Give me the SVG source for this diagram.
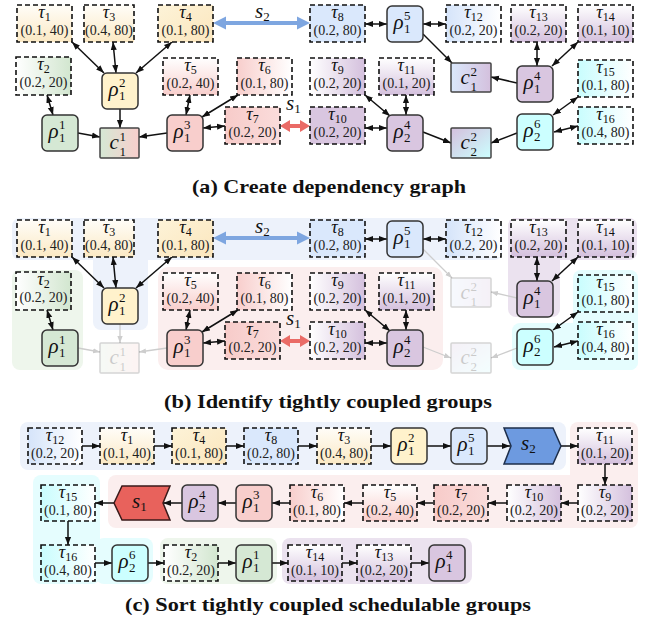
<svg xmlns="http://www.w3.org/2000/svg" width="657" height="630" viewBox="0 0 657 630">
<style>
.tb{stroke:#111;stroke-width:1.6;stroke-dasharray:5 3}
.rb{stroke:#333;stroke-width:1.5}
.cb{stroke:#444;stroke-width:1.5}
.tl{font-family:"Liberation Serif",serif;font-style:italic;font-size:18px;text-anchor:middle;fill:#111}
.sb{font-size:12px;font-style:normal}
.nm{font-family:"Liberation Serif",serif;font-size:14px;text-anchor:middle;fill:#222}
.gl{font-family:"Liberation Serif",serif;font-style:italic;font-size:21px;fill:#111}
.sc{font-size:13px;font-style:normal}
.lk{stroke:#111;stroke-width:1.5;fill:none;marker-start:url(#ah);marker-end:url(#ah)}
.to{stroke:#111;stroke-width:1.5;fill:none;marker-end:url(#ah)}
.fd{stroke:#cdcdcd;stroke-width:1.3;fill:none;marker-end:url(#ahf)}
.cap{font-family:"Liberation Serif",serif;font-weight:bold;font-size:19px;text-anchor:middle;fill:#111}
.sl{font-family:"Liberation Serif",serif;font-style:italic;font-size:21px;fill:#111}
.sls{font-size:13px;font-style:normal}
.faded{opacity:0.22}
</style>
<defs>
<marker id="ah" viewBox="0 0 10 10" refX="10" refY="5" markerWidth="8" markerHeight="8" markerUnits="userSpaceOnUse" orient="auto-start-reverse"><path d="M0,1.2 L10,5 L0,8.8 z" fill="#111"/></marker>
<marker id="ahf" viewBox="0 0 10 10" refX="10" refY="5" markerWidth="7" markerHeight="7" markerUnits="userSpaceOnUse" orient="auto-start-reverse"><path d="M0,1.2 L10,5 L0,8.8 z" fill="#cdcdcd"/></marker>
<linearGradient id="gYv" x1="0" y1="0" x2="0" y2="1"><stop offset="0" stop-color="#fffdf8"/><stop offset="1" stop-color="#fbe9c4"/></linearGradient>
<linearGradient id="gY4" x1="0" y1="0" x2="1" y2="1"><stop offset="0" stop-color="#fdf3d8"/><stop offset="1" stop-color="#fbe6bd"/></linearGradient>
<linearGradient id="gGh" x1="0" y1="0" x2="1" y2="0"><stop offset="0" stop-color="#ffffff"/><stop offset="1" stop-color="#d2e6cf"/></linearGradient>
<linearGradient id="gPv" x1="0" y1="0" x2="0" y2="1"><stop offset="0" stop-color="#ffffff"/><stop offset="1" stop-color="#f8cecc"/></linearGradient>
<linearGradient id="gPr" x1="0" y1="0" x2="1" y2="0"><stop offset="0" stop-color="#f8cecc"/><stop offset="1" stop-color="#ffffff"/></linearGradient>
<linearGradient id="gP7" x1="0" y1="0" x2="1" y2="0"><stop offset="0" stop-color="#f7cbc9"/><stop offset="1" stop-color="#fadcdb"/></linearGradient>
<linearGradient id="gBr" x1="0" y1="0" x2="1" y2="0"><stop offset="0" stop-color="#d5e4fa"/><stop offset="1" stop-color="#ffffff"/></linearGradient>
<linearGradient id="gVh" x1="0" y1="0" x2="1" y2="0"><stop offset="0" stop-color="#ffffff"/><stop offset="1" stop-color="#d4c0dd"/></linearGradient>
<linearGradient id="gVv" x1="0" y1="0" x2="0" y2="1"><stop offset="0" stop-color="#ffffff"/><stop offset="1" stop-color="#d4c0dd"/></linearGradient>
<linearGradient id="gCr" x1="0" y1="0" x2="1" y2="0"><stop offset="0" stop-color="#c9fdfe"/><stop offset="1" stop-color="#ffffff"/></linearGradient>
<linearGradient id="gGP" x1="0" y1="0" x2="1" y2="0"><stop offset="0" stop-color="#d5e8d4"/><stop offset="1" stop-color="#f8cecc"/></linearGradient>
<linearGradient id="gBV" x1="0" y1="0" x2="1" y2="0"><stop offset="0" stop-color="#dae8fc"/><stop offset="1" stop-color="#d4c0dd"/></linearGradient>
<linearGradient id="gVC" x1="0" y1="0" x2="1" y2="1"><stop offset="0" stop-color="#d4c0dd"/><stop offset="1" stop-color="#ccffff"/></linearGradient>
</defs>

<!-- ============ (a) dependency graph ============ -->
<g id="panel-a">
<g id="a-links">
<line class="lk" x1="72" y1="42" x2="104" y2="73"/>
<line class="lk" x1="113" y1="42" x2="116" y2="73"/>
<line class="lk" x1="172" y1="42" x2="136" y2="73"/>
<line class="lk" x1="47" y1="95" x2="53" y2="115"/>
<line class="lk" x1="190" y1="95" x2="186" y2="115"/>
<line class="lk" x1="202" y1="117" x2="238" y2="95"/>
<line class="lk" x1="203" y1="128" x2="225" y2="126"/>
<line class="lk" x1="365" y1="24" x2="387" y2="24"/>
<line class="lk" x1="423" y1="24" x2="446" y2="24"/>
<line class="lk" x1="365" y1="95" x2="390" y2="116"/>
<line class="lk" x1="406" y1="95" x2="406" y2="115"/>
<line class="lk" x1="365" y1="128" x2="387" y2="128"/>
<line class="lk" x1="537" y1="42" x2="537" y2="66"/>
<line class="lk" x1="578" y1="42" x2="552" y2="66"/>
<line class="lk" x1="578" y1="97" x2="553" y2="115"/>
<line class="lk" x1="578" y1="126" x2="554" y2="132"/>
<line class="to" x1="120" y1="109" x2="120" y2="128"/>
<line class="to" x1="78" y1="133" x2="100" y2="137"/>
<line class="to" x1="167" y1="133" x2="139" y2="137"/>
<line class="to" x1="423" y1="34" x2="452" y2="63"/>
<line class="to" x1="517" y1="83" x2="491" y2="77"/>
<line class="to" x1="423" y1="132" x2="451" y2="143"/>
<line class="to" x1="517" y1="133" x2="491" y2="143"/>
<polygon points="213,23 226,16.5 226,21 297,21 297,16.5 310,23 297,29.5 297,25 226,25 226,29.5" fill="#7ea6e0"/>
<polygon points="280,126 290,120 290,124 300,124 300,120 310,126 300,132 300,128 290,128 290,132" fill="#ea6b66"/>
<text class="sl" x="255" y="18">s<tspan class="sls" dy="3">2</tspan></text>
<text class="sl" x="286" y="110">s<tspan class="sls" dy="3">1</tspan></text>
</g>
<g id="a-t1"><rect class="tb" x="17" y="5" width="55" height="37" fill="url(#gYv)"/><text class="tl" x="44.5" y="18">τ<tspan class="sb" dy="3">1</tspan></text><text class="nm" x="44.5" y="35">(0.1, 40)</text></g>
<g id="a-t3"><rect class="tb" x="84" y="5" width="50" height="37" fill="url(#gYv)"/><text class="tl" x="109" y="18">τ<tspan class="sb" dy="3">3</tspan></text><text class="nm" x="109" y="35">(0.4, 80)</text></g>
<g id="a-t4"><rect class="tb" x="158" y="5" width="55" height="37" fill="url(#gY4)"/><text class="tl" x="185.5" y="18">τ<tspan class="sb" dy="3">4</tspan></text><text class="nm" x="185.5" y="35">(0.1, 80)</text></g>
<g id="a-t8"><rect class="tb" x="310" y="5" width="55" height="37" fill="#dae8fc"/><text class="tl" x="337.5" y="18">τ<tspan class="sb" dy="3">8</tspan></text><text class="nm" x="337.5" y="35">(0.2, 80)</text></g>
<g id="a-t12"><rect class="tb" x="446" y="5" width="55" height="37" fill="url(#gBr)"/><text class="tl" x="473.5" y="18">τ<tspan class="sb" dy="3">12</tspan></text><text class="nm" x="473.5" y="35">(0.2, 20)</text></g>
<g id="a-t13"><rect class="tb" x="511" y="5" width="55" height="37" fill="url(#gVv)"/><text class="tl" x="538.5" y="18">τ<tspan class="sb" dy="3">13</tspan></text><text class="nm" x="538.5" y="35">(0.2, 20)</text></g>
<g id="a-t14"><rect class="tb" x="578" y="5" width="55" height="37" fill="url(#gVv)"/><text class="tl" x="605.5" y="18">τ<tspan class="sb" dy="3">14</tspan></text><text class="nm" x="605.5" y="35">(0.1, 10)</text></g>
<g id="a-t2"><rect class="tb" x="16" y="57" width="55" height="38" fill="url(#gGh)"/><text class="tl" x="43.5" y="70">τ<tspan class="sb" dy="3">2</tspan></text><text class="nm" x="43.5" y="87">(0.2, 20)</text></g>
<g id="a-t5"><rect class="tb" x="163" y="58" width="55" height="37" fill="url(#gPv)"/><text class="tl" x="190.5" y="71">τ<tspan class="sb" dy="3">5</tspan></text><text class="nm" x="190.5" y="88">(0.2, 40)</text></g>
<g id="a-t6"><rect class="tb" x="237" y="58" width="55" height="37" fill="url(#gPr)"/><text class="tl" x="264.5" y="71">τ<tspan class="sb" dy="3">6</tspan></text><text class="nm" x="264.5" y="88">(0.1, 80)</text></g>
<g id="a-t9"><rect class="tb" x="310" y="58" width="55" height="37" fill="url(#gVh)"/><text class="tl" x="337.5" y="71">τ<tspan class="sb" dy="3">9</tspan></text><text class="nm" x="337.5" y="88">(0.2, 20)</text></g>
<g id="a-t11"><rect class="tb" x="379" y="58" width="55" height="37" fill="url(#gVv)"/><text class="tl" x="406.5" y="71">τ<tspan class="sb" dy="3">11</tspan></text><text class="nm" x="406.5" y="88">(0.1, 20)</text></g>
<g id="a-t15"><rect class="tb" x="578" y="60" width="55" height="37" fill="url(#gCr)"/><text class="tl" x="605.5" y="73">τ<tspan class="sb" dy="3">15</tspan></text><text class="nm" x="605.5" y="90">(0.1, 80)</text></g>
<g id="a-t7"><rect class="tb" x="225" y="107" width="55" height="37" fill="url(#gP7)"/><text class="tl" x="252.5" y="120">τ<tspan class="sb" dy="3">7</tspan></text><text class="nm" x="252.5" y="137">(0.2, 20)</text></g>
<g id="a-t10"><rect class="tb" x="310" y="107" width="55" height="37" fill="#d9c6e0"/><text class="tl" x="337.5" y="120">τ<tspan class="sb" dy="3">10</tspan></text><text class="nm" x="337.5" y="137">(0.2, 20)</text></g>
<g id="a-t16"><rect class="tb" x="578" y="107" width="55" height="37" fill="url(#gCr)"/><text class="tl" x="605.5" y="120">τ<tspan class="sb" dy="3">16</tspan></text><text class="nm" x="605.5" y="137">(0.4, 80)</text></g>
<g id="a-r15"><rect class="rb" x="387" y="6" width="36" height="36" rx="5" fill="#dae8fc"/><text class="gl" x="393.5" y="29">ρ<tspan class="sc" x="404" y="20">5</tspan><tspan class="sc" x="404" y="33">1</tspan></text></g>
<g id="a-r12"><rect class="rb" x="102" y="73" width="36" height="36" rx="5" fill="#fff2cc"/><text class="gl" x="108.5" y="96">ρ<tspan class="sc" x="119" y="87">2</tspan><tspan class="sc" x="119" y="100">1</tspan></text></g>
<g id="a-r14"><rect class="rb" x="517" y="66" width="36" height="36" rx="5" fill="#d9c6e0"/><text class="gl" x="523.5" y="89">ρ<tspan class="sc" x="534" y="80">4</tspan><tspan class="sc" x="534" y="93">1</tspan></text></g>
<g id="a-r11"><rect class="rb" x="42" y="115" width="36" height="36" rx="5" fill="#d5e8d4"/><text class="gl" x="48.5" y="138">ρ<tspan class="sc" x="59" y="129">1</tspan><tspan class="sc" x="59" y="142">1</tspan></text></g>
<g id="a-r13"><rect class="rb" x="167" y="115" width="36" height="36" rx="5" fill="#f8cecc"/><text class="gl" x="173.5" y="138">ρ<tspan class="sc" x="184" y="129">3</tspan><tspan class="sc" x="184" y="142">1</tspan></text></g>
<g id="a-r24"><rect class="rb" x="387" y="115" width="36" height="36" rx="5" fill="#d9c6e0"/><text class="gl" x="393.5" y="138">ρ<tspan class="sc" x="404" y="129">4</tspan><tspan class="sc" x="404" y="142">2</tspan></text></g>
<g id="a-r26"><rect class="rb" x="517" y="114" width="36" height="36" rx="5" fill="#ccffff"/><text class="gl" x="523.5" y="137">ρ<tspan class="sc" x="534" y="128">6</tspan><tspan class="sc" x="534" y="141">2</tspan></text></g>
<g id="a-c11"><rect class="cb" x="100" y="128" width="39" height="30" rx="1" fill="url(#gGP)"/><text class="gl" x="109.5" y="149">c<tspan class="sc" x="119.5" y="141">1</tspan><tspan class="sc" x="119.5" y="156">1</tspan></text></g>
<g id="a-c12"><rect class="cb" x="451" y="63" width="40" height="29" rx="1" fill="url(#gBV)"/><text class="gl" x="460.5" y="84">c<tspan class="sc" x="470.5" y="76">2</tspan><tspan class="sc" x="470.5" y="91">1</tspan></text></g>
<g id="a-c22"><rect class="cb" x="451" y="128" width="40" height="30" rx="1" fill="url(#gVC)"/><text class="gl" x="460.5" y="149">c<tspan class="sc" x="470.5" y="141">2</tspan><tspan class="sc" x="470.5" y="156">2</tspan></text></g>
<text class="cap" x="329" y="193" textLength="274" lengthAdjust="spacingAndGlyphs">(a) Create dependency graph</text>
</g>

<!-- ============ (b) tightly coupled groups ============ -->
<g id="panel-b" transform="translate(0,215)">
<g id="b-groups">
<rect x="12" y="3" width="490" height="42" rx="8" fill="#edf2fb"/>
<rect x="93" y="3" width="55" height="112" rx="8" fill="#edf2fb"/>
<rect x="12" y="55" width="71" height="100" rx="8" fill="#eef6ec"/>
<rect x="158" y="52" width="285" height="103" rx="10" fill="#fbeeee"/>
<rect x="508" y="3" width="129" height="42" rx="8" fill="#ebe2ef"/>
<rect x="508" y="3" width="52" height="99" rx="8" fill="#ebe2ef"/>
<rect x="573" y="55" width="65" height="100" rx="8" fill="#e5fdfe"/>
<rect x="512" y="108" width="126" height="47" rx="8" fill="#e5fdfe"/>
</g>
<g id="b-links">
<line class="lk" x1="72" y1="42" x2="104" y2="73"/>
<line class="lk" x1="113" y1="42" x2="116" y2="73"/>
<line class="lk" x1="172" y1="42" x2="136" y2="73"/>
<line class="lk" x1="47" y1="95" x2="53" y2="115"/>
<line class="lk" x1="190" y1="95" x2="186" y2="115"/>
<line class="lk" x1="202" y1="117" x2="238" y2="95"/>
<line class="lk" x1="203" y1="128" x2="225" y2="126"/>
<line class="lk" x1="365" y1="24" x2="387" y2="24"/>
<line class="lk" x1="423" y1="24" x2="446" y2="24"/>
<line class="lk" x1="365" y1="95" x2="390" y2="116"/>
<line class="lk" x1="406" y1="95" x2="406" y2="115"/>
<line class="lk" x1="365" y1="128" x2="387" y2="128"/>
<line class="lk" x1="537" y1="42" x2="537" y2="66"/>
<line class="lk" x1="578" y1="42" x2="552" y2="66"/>
<line class="lk" x1="578" y1="97" x2="553" y2="115"/>
<line class="lk" x1="578" y1="126" x2="554" y2="132"/>
<line class="fd" x1="120" y1="109" x2="120" y2="128"/>
<line class="fd" x1="78" y1="133" x2="100" y2="137"/>
<line class="fd" x1="167" y1="133" x2="139" y2="137"/>
<line class="fd" x1="423" y1="34" x2="452" y2="63"/>
<line class="fd" x1="517" y1="83" x2="491" y2="77"/>
<line class="fd" x1="423" y1="132" x2="451" y2="143"/>
<line class="fd" x1="517" y1="133" x2="491" y2="143"/>
<polygon points="213,23 226,16.5 226,21 297,21 297,16.5 310,23 297,29.5 297,25 226,25 226,29.5" fill="#7ea6e0"/>
<polygon points="280,126 290,120 290,124 300,124 300,120 310,126 300,132 300,128 290,128 290,132" fill="#ea6b66"/>
<text class="sl" x="255" y="18">s<tspan class="sls" dy="3">2</tspan></text>
<text class="sl" x="286" y="110">s<tspan class="sls" dy="3">1</tspan></text>
</g>
<g id="b-t1"><rect class="tb" x="17" y="5" width="55" height="37" fill="url(#gYv)"/><text class="tl" x="44.5" y="18">τ<tspan class="sb" dy="3">1</tspan></text><text class="nm" x="44.5" y="35">(0.1, 40)</text></g>
<g id="b-t3"><rect class="tb" x="84" y="5" width="50" height="37" fill="url(#gYv)"/><text class="tl" x="109" y="18">τ<tspan class="sb" dy="3">3</tspan></text><text class="nm" x="109" y="35">(0.4, 80)</text></g>
<g id="b-t4"><rect class="tb" x="158" y="5" width="55" height="37" fill="url(#gY4)"/><text class="tl" x="185.5" y="18">τ<tspan class="sb" dy="3">4</tspan></text><text class="nm" x="185.5" y="35">(0.1, 80)</text></g>
<g id="b-t8"><rect class="tb" x="310" y="5" width="55" height="37" fill="#dae8fc"/><text class="tl" x="337.5" y="18">τ<tspan class="sb" dy="3">8</tspan></text><text class="nm" x="337.5" y="35">(0.2, 80)</text></g>
<g id="b-t12"><rect class="tb" x="446" y="5" width="55" height="37" fill="url(#gBr)"/><text class="tl" x="473.5" y="18">τ<tspan class="sb" dy="3">12</tspan></text><text class="nm" x="473.5" y="35">(0.2, 20)</text></g>
<g id="b-t13"><rect class="tb" x="511" y="5" width="55" height="37" fill="url(#gVv)"/><text class="tl" x="538.5" y="18">τ<tspan class="sb" dy="3">13</tspan></text><text class="nm" x="538.5" y="35">(0.2, 20)</text></g>
<g id="b-t14"><rect class="tb" x="578" y="5" width="55" height="37" fill="url(#gVv)"/><text class="tl" x="605.5" y="18">τ<tspan class="sb" dy="3">14</tspan></text><text class="nm" x="605.5" y="35">(0.1, 10)</text></g>
<g id="b-t2"><rect class="tb" x="16" y="57" width="55" height="38" fill="url(#gGh)"/><text class="tl" x="43.5" y="70">τ<tspan class="sb" dy="3">2</tspan></text><text class="nm" x="43.5" y="87">(0.2, 20)</text></g>
<g id="b-t5"><rect class="tb" x="163" y="58" width="55" height="37" fill="url(#gPv)"/><text class="tl" x="190.5" y="71">τ<tspan class="sb" dy="3">5</tspan></text><text class="nm" x="190.5" y="88">(0.2, 40)</text></g>
<g id="b-t6"><rect class="tb" x="237" y="58" width="55" height="37" fill="url(#gPr)"/><text class="tl" x="264.5" y="71">τ<tspan class="sb" dy="3">6</tspan></text><text class="nm" x="264.5" y="88">(0.1, 80)</text></g>
<g id="b-t9"><rect class="tb" x="310" y="58" width="55" height="37" fill="url(#gVh)"/><text class="tl" x="337.5" y="71">τ<tspan class="sb" dy="3">9</tspan></text><text class="nm" x="337.5" y="88">(0.2, 20)</text></g>
<g id="b-t11"><rect class="tb" x="379" y="58" width="55" height="37" fill="url(#gVv)"/><text class="tl" x="406.5" y="71">τ<tspan class="sb" dy="3">11</tspan></text><text class="nm" x="406.5" y="88">(0.1, 20)</text></g>
<g id="b-t15"><rect class="tb" x="578" y="60" width="55" height="37" fill="url(#gCr)"/><text class="tl" x="605.5" y="73">τ<tspan class="sb" dy="3">15</tspan></text><text class="nm" x="605.5" y="90">(0.1, 80)</text></g>
<g id="b-t7"><rect class="tb" x="225" y="107" width="55" height="37" fill="url(#gP7)"/><text class="tl" x="252.5" y="120">τ<tspan class="sb" dy="3">7</tspan></text><text class="nm" x="252.5" y="137">(0.2, 20)</text></g>
<g id="b-t10"><rect class="tb" x="310" y="107" width="55" height="37" fill="url(#gVh)"/><text class="tl" x="337.5" y="120">τ<tspan class="sb" dy="3">10</tspan></text><text class="nm" x="337.5" y="137">(0.2, 20)</text></g>
<g id="b-t16"><rect class="tb" x="578" y="107" width="55" height="37" fill="url(#gCr)"/><text class="tl" x="605.5" y="120">τ<tspan class="sb" dy="3">16</tspan></text><text class="nm" x="605.5" y="137">(0.4, 80)</text></g>
<g id="b-r15"><rect class="rb" x="387" y="6" width="36" height="36" rx="5" fill="#dae8fc"/><text class="gl" x="393.5" y="29">ρ<tspan class="sc" x="404" y="20">5</tspan><tspan class="sc" x="404" y="33">1</tspan></text></g>
<g id="b-r12"><rect class="rb" x="102" y="73" width="36" height="36" rx="5" fill="#fff2cc"/><text class="gl" x="108.5" y="96">ρ<tspan class="sc" x="119" y="87">2</tspan><tspan class="sc" x="119" y="100">1</tspan></text></g>
<g id="b-r14"><rect class="rb" x="517" y="66" width="36" height="36" rx="5" fill="#d9c6e0"/><text class="gl" x="523.5" y="89">ρ<tspan class="sc" x="534" y="80">4</tspan><tspan class="sc" x="534" y="93">1</tspan></text></g>
<g id="b-r11"><rect class="rb" x="42" y="115" width="36" height="36" rx="5" fill="#d5e8d4"/><text class="gl" x="48.5" y="138">ρ<tspan class="sc" x="59" y="129">1</tspan><tspan class="sc" x="59" y="142">1</tspan></text></g>
<g id="b-r13"><rect class="rb" x="167" y="115" width="36" height="36" rx="5" fill="#f8cecc"/><text class="gl" x="173.5" y="138">ρ<tspan class="sc" x="184" y="129">3</tspan><tspan class="sc" x="184" y="142">1</tspan></text></g>
<g id="b-r24"><rect class="rb" x="387" y="115" width="36" height="36" rx="5" fill="#d9c6e0"/><text class="gl" x="393.5" y="138">ρ<tspan class="sc" x="404" y="129">4</tspan><tspan class="sc" x="404" y="142">2</tspan></text></g>
<g id="b-r26"><rect class="rb" x="517" y="114" width="36" height="36" rx="5" fill="#ccffff"/><text class="gl" x="523.5" y="137">ρ<tspan class="sc" x="534" y="128">6</tspan><tspan class="sc" x="534" y="141">2</tspan></text></g>
<g id="b-c11" class="faded"><rect class="cb" x="100" y="128" width="39" height="30" rx="1" fill="url(#gGP)"/><text class="gl" x="109.5" y="149">c<tspan class="sc" x="119.5" y="141">1</tspan><tspan class="sc" x="119.5" y="156">1</tspan></text></g>
<g id="b-c12" class="faded"><rect class="cb" x="451" y="63" width="40" height="29" rx="1" fill="url(#gBV)"/><text class="gl" x="460.5" y="84">c<tspan class="sc" x="470.5" y="76">2</tspan><tspan class="sc" x="470.5" y="91">1</tspan></text></g>
<g id="b-c22" class="faded"><rect class="cb" x="451" y="128" width="40" height="30" rx="1" fill="url(#gVC)"/><text class="gl" x="460.5" y="149">c<tspan class="sc" x="470.5" y="141">2</tspan><tspan class="sc" x="470.5" y="156">2</tspan></text></g>
<text class="cap" x="328" y="193" textLength="328" lengthAdjust="spacingAndGlyphs">(b) Identify tightly coupled groups</text>
</g>

<!-- ============ (c) sorted schedulable groups ============ -->
<g id="panel-c">
<g id="c-groups">
<rect x="20" y="422" width="546" height="48" rx="8" fill="#edf2fb"/>
<rect x="570" y="422" width="68" height="70" rx="8" fill="#fbeeee"/>
<rect x="108" y="475" width="530" height="53" rx="8" fill="#fbeeee"/>
<rect x="33" y="475" width="67" height="109" rx="8" fill="#e5fdfe"/>
<rect x="96" y="538" width="57" height="46" rx="8" fill="#e5fdfe"/>
<rect x="160" y="538" width="117" height="46" rx="8" fill="#eef6ec"/>
<rect x="282" y="538" width="190" height="46" rx="8" fill="#ebe2ef"/>
</g>
<g id="c-links">
<line class="to" x1="82" y1="446" x2="100" y2="446"/>
<line class="to" x1="154" y1="446" x2="172" y2="446"/>
<line class="to" x1="226" y1="446" x2="244" y2="446"/>
<line class="to" x1="298" y1="446" x2="317" y2="446"/>
<line class="to" x1="371" y1="446" x2="391" y2="446"/>
<line class="to" x1="427" y1="446" x2="451" y2="446"/>
<line class="to" x1="487" y1="446" x2="510" y2="446"/>
<line class="to" x1="561" y1="446" x2="578" y2="446"/>
<line class="to" x1="605" y1="464" x2="605" y2="485"/>
<line class="to" x1="578" y1="503" x2="561" y2="503"/>
<line class="to" x1="507" y1="503" x2="488" y2="503"/>
<line class="to" x1="433" y1="503" x2="417" y2="503"/>
<line class="to" x1="363" y1="503" x2="344" y2="503"/>
<line class="to" x1="290" y1="503" x2="272" y2="503"/>
<line class="to" x1="236" y1="503" x2="218" y2="503"/>
<line class="to" x1="182" y1="503" x2="163" y2="503"/>
<line class="to" x1="114" y1="503" x2="95" y2="503"/>
<line class="to" x1="68" y1="521" x2="68" y2="545"/>
<line class="to" x1="95" y1="563" x2="112" y2="563"/>
<line class="to" x1="148" y1="563" x2="164" y2="563"/>
<line class="to" x1="218" y1="563" x2="236" y2="563"/>
<line class="to" x1="272" y1="563" x2="288" y2="563"/>
<line class="to" x1="342" y1="563" x2="357" y2="563"/>
<line class="to" x1="411" y1="563" x2="429" y2="563"/>
</g>
<g id="c-t12"><rect class="tb" x="28" y="428" width="54" height="36" fill="url(#gBr)"/><text class="tl" x="55" y="441">τ<tspan class="sb" dy="3">12</tspan></text><text class="nm" x="55" y="458">(0.2, 20)</text></g>
<g id="c-t1"><rect class="tb" x="100" y="428" width="54" height="36" fill="url(#gYv)"/><text class="tl" x="127" y="441">τ<tspan class="sb" dy="3">1</tspan></text><text class="nm" x="127" y="458">(0.1, 40)</text></g>
<g id="c-t4"><rect class="tb" x="172" y="428" width="54" height="36" fill="url(#gY4)"/><text class="tl" x="199" y="441">τ<tspan class="sb" dy="3">4</tspan></text><text class="nm" x="199" y="458">(0.1, 80)</text></g>
<g id="c-t8"><rect class="tb" x="244" y="428" width="54" height="36" fill="#dae8fc"/><text class="tl" x="271" y="441">τ<tspan class="sb" dy="3">8</tspan></text><text class="nm" x="271" y="458">(0.2, 80)</text></g>
<g id="c-t3"><rect class="tb" x="317" y="428" width="54" height="36" fill="url(#gYv)"/><text class="tl" x="344" y="441">τ<tspan class="sb" dy="3">3</tspan></text><text class="nm" x="344" y="458">(0.4, 80)</text></g>
<g id="c-r12"><rect class="rb" x="391" y="428" width="36" height="36" rx="5" fill="#fff2cc"/><text class="gl" x="397.5" y="451">ρ<tspan class="sc" x="408" y="442">2</tspan><tspan class="sc" x="408" y="455">1</tspan></text></g>
<g id="c-r15"><rect class="rb" x="451" y="428" width="36" height="36" rx="5" fill="#dae8fc"/><text class="gl" x="457.5" y="451">ρ<tspan class="sc" x="468" y="442">5</tspan><tspan class="sc" x="468" y="455">1</tspan></text></g>
<g id="c-s2"><path d="M504,428 L553,428 L561,446 L553,464 L504,464 L511,446 Z" fill="#6d9ae0" stroke="#1d2e4a" stroke-width="1.5"/><text class="sl" x="521" y="450">s<tspan class="sls" dy="3">2</tspan></text></g>
<g id="c-t11"><rect class="tb" x="578" y="428" width="54" height="36" fill="url(#gVv)"/><text class="tl" x="605" y="441">τ<tspan class="sb" dy="3">11</tspan></text><text class="nm" x="605" y="458">(0.1, 20)</text></g>
<g id="c-t9"><rect class="tb" x="578" y="485" width="54" height="36" fill="url(#gVh)"/><text class="tl" x="605" y="498">τ<tspan class="sb" dy="3">9</tspan></text><text class="nm" x="605" y="515">(0.2, 20)</text></g>
<g id="c-t10"><rect class="tb" x="507" y="485" width="54" height="36" fill="url(#gVh)"/><text class="tl" x="534" y="498">τ<tspan class="sb" dy="3">10</tspan></text><text class="nm" x="534" y="515">(0.2, 20)</text></g>
<g id="c-t7"><rect class="tb" x="434" y="485" width="54" height="36" fill="url(#gP7)"/><text class="tl" x="461" y="498">τ<tspan class="sb" dy="3">7</tspan></text><text class="nm" x="461" y="515">(0.2, 20)</text></g>
<g id="c-t5"><rect class="tb" x="363" y="485" width="54" height="36" fill="url(#gPv)"/><text class="tl" x="390" y="498">τ<tspan class="sb" dy="3">5</tspan></text><text class="nm" x="390" y="515">(0.2, 40)</text></g>
<g id="c-t6"><rect class="tb" x="290" y="485" width="54" height="36" fill="url(#gPr)"/><text class="tl" x="317" y="498">τ<tspan class="sb" dy="3">6</tspan></text><text class="nm" x="317" y="515">(0.1, 80)</text></g>
<g id="c-r13"><rect class="rb" x="236" y="485" width="36" height="36" rx="5" fill="#f8cecc"/><text class="gl" x="242.5" y="508">ρ<tspan class="sc" x="253" y="499">3</tspan><tspan class="sc" x="253" y="512">1</tspan></text></g>
<g id="c-r24"><rect class="rb" x="182" y="485" width="36" height="36" rx="5" fill="#d9c6e0"/><text class="gl" x="188.5" y="508">ρ<tspan class="sc" x="199" y="499">4</tspan><tspan class="sc" x="199" y="512">2</tspan></text></g>
<g id="c-s1"><path d="M114,503 L122,486 L170,486 L163,503 L170,520 L122,520 Z" fill="#e8625c" stroke="#3a1a1a" stroke-width="1.5"/><text class="sl" x="132" y="508">s<tspan class="sls" dy="3">1</tspan></text></g>
<g id="c-t15"><rect class="tb" x="41" y="485" width="54" height="36" fill="url(#gCr)"/><text class="tl" x="68" y="498">τ<tspan class="sb" dy="3">15</tspan></text><text class="nm" x="68" y="515">(0.1, 80)</text></g>
<g id="c-t16"><rect class="tb" x="41" y="545" width="54" height="36" fill="url(#gCr)"/><text class="tl" x="68" y="558">τ<tspan class="sb" dy="3">16</tspan></text><text class="nm" x="68" y="575">(0.4, 80)</text></g>
<g id="c-r26"><rect class="rb" x="112" y="545" width="36" height="36" rx="5" fill="#ccffff"/><text class="gl" x="118.5" y="568">ρ<tspan class="sc" x="129" y="559">6</tspan><tspan class="sc" x="129" y="572">2</tspan></text></g>
<g id="c-t2"><rect class="tb" x="164" y="545" width="54" height="36" fill="url(#gGh)"/><text class="tl" x="191" y="558">τ<tspan class="sb" dy="3">2</tspan></text><text class="nm" x="191" y="575">(0.2, 20)</text></g>
<g id="c-r11"><rect class="rb" x="236" y="545" width="36" height="36" rx="5" fill="#d5e8d4"/><text class="gl" x="242.5" y="568">ρ<tspan class="sc" x="253" y="559">1</tspan><tspan class="sc" x="253" y="572">1</tspan></text></g>
<g id="c-t14"><rect class="tb" x="288" y="545" width="54" height="36" fill="url(#gVv)"/><text class="tl" x="315" y="558">τ<tspan class="sb" dy="3">14</tspan></text><text class="nm" x="315" y="575">(0.1, 10)</text></g>
<g id="c-t13"><rect class="tb" x="357" y="545" width="54" height="36" fill="url(#gVv)"/><text class="tl" x="384" y="558">τ<tspan class="sb" dy="3">13</tspan></text><text class="nm" x="384" y="575">(0.2, 20)</text></g>
<g id="c-r14"><rect class="rb" x="429" y="545" width="36" height="36" rx="5" fill="#d9c6e0"/><text class="gl" x="435.5" y="568">ρ<tspan class="sc" x="446" y="559">4</tspan><tspan class="sc" x="446" y="572">1</tspan></text></g>
<text class="cap" x="328" y="611" textLength="406" lengthAdjust="spacingAndGlyphs">(c) Sort tightly coupled schedulable groups</text>
</g>
</svg>
